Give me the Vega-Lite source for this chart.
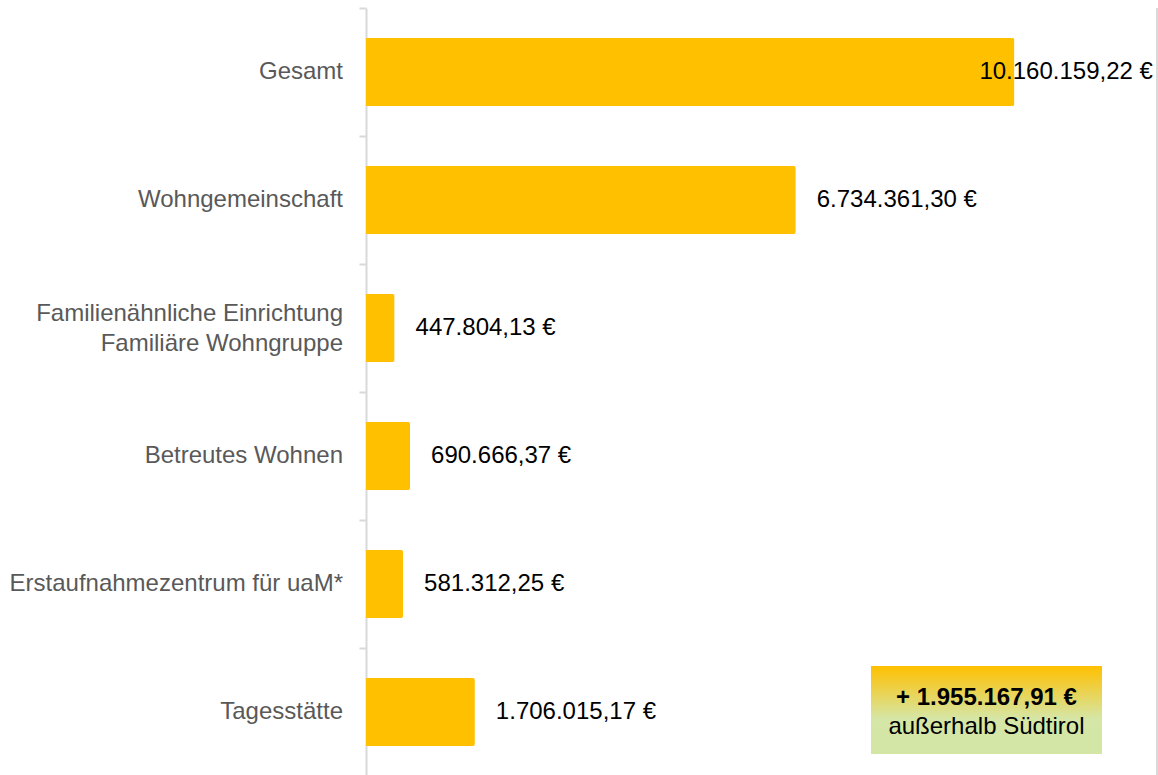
{
  "$schema": "https://vega.github.io/schema/vega-lite/v6.json",
  "width": 791,
  "height": 768,
  "autosize": "none",
  "padding": {"left": 366, "top": 8, "right": 1, "bottom": 0},
  "background": "white",
  "config": {
    "view": {"stroke": null},
    "locale": {"number": {"decimal": ",", "thousands": ".", "grouping": [3], "currency": ["", " €"]}},
    "font": "Liberation Sans"
  },
  "datasets": {
    "bars": [
      {"kategorie": "Gesamt", "betrag": 10160159.22},
      {"kategorie": "Wohngemeinschaft", "betrag": 6734361.30},
      {"kategorie": "Familienähnliche Einrichtung|Familiäre Wohngruppe", "betrag": 447804.13},
      {"kategorie": "Betreutes Wohnen", "betrag": 690666.37},
      {"kategorie": "Erstaufnahmezentrum für uaM*", "betrag": 581312.25},
      {"kategorie": "Tagesstätte", "betrag": 1706015.17}
    ],
    "box": [
      {"kategorie": "Tagesstätte", "von": 7913000, "bis": 11533000, "mitte": 9723000, "zeile1": "+ 1.955.167,91 €", "zeile2": "außerhalb Südtirol"}
    ]
  },
  "layer": [
    {
      "data": {"name": "bars"},
      "mark": {"type": "bar", "color": "#FFC000", "cornerRadiusEnd": 2, "size": 68},
      "encoding": {
        "y": {
          "field": "kategorie", "type": "nominal", "sort": null, "title": null,
          "scale": {"paddingInner": 0, "paddingOuter": 0},
          "axis": {
            "labels": false,
            "domainColor": "#d9d9d9", "domainWidth": 2,
            "tickColor": "#d9d9d9", "tickSize": 7, "tickWidth": 2, "tickBand": "extent"
          }
        },
        "x": {
          "field": "betrag", "type": "quantitative",
          "scale": {"domain": [0, 12395000], "nice": false},
          "axis": null
        }
      }
    },
    {
      "data": {"name": "bars"},
      "transform": [{"filter": "indexof(datum.kategorie, '|') < 0"}],
      "mark": {"type": "text", "align": "right", "baseline": "middle", "dx": -23, "fontSize": 24, "color": "#595959"},
      "encoding": {
        "y": {"field": "kategorie", "type": "nominal", "sort": null},
        "x": {"datum": 0, "type": "quantitative"},
        "text": {"field": "kategorie"}
      }
    },
    {
      "data": {"name": "bars"},
      "transform": [{"filter": "indexof(datum.kategorie, '|') >= 0"}],
      "mark": {"type": "text", "align": "right", "baseline": "middle", "dx": -23, "dy": -14, "fontSize": 24, "color": "#595959", "lineBreak": "|", "lineHeight": 30},
      "encoding": {
        "y": {"field": "kategorie", "type": "nominal", "sort": null},
        "x": {"datum": 0, "type": "quantitative"},
        "text": {"field": "kategorie"}
      }
    },
    {
      "data": {"name": "bars"},
      "transform": [{"filter": "datum.kategorie !== 'Gesamt'"}],
      "mark": {"type": "text", "align": "left", "baseline": "middle", "dx": 21, "fontSize": 24, "color": "black"},
      "encoding": {
        "y": {"field": "kategorie", "type": "nominal", "sort": null},
        "x": {"field": "betrag", "type": "quantitative"},
        "text": {"field": "betrag", "type": "quantitative", "format": "$,.2f"}
      }
    },
    {
      "data": {"name": "bars"},
      "transform": [{"filter": "datum.kategorie === 'Gesamt'"}],
      "mark": {"type": "text", "align": "left", "baseline": "middle", "dx": -35, "fontSize": 24, "color": "black"},
      "encoding": {
        "y": {"field": "kategorie", "type": "nominal", "sort": null},
        "x": {"field": "betrag", "type": "quantitative"},
        "text": {"field": "betrag", "type": "quantitative", "format": "$,.2f"}
      }
    },
    {
      "data": {"name": "box"},
      "mark": {
        "type": "bar", "size": 88, "yOffset": -2,
        "color": {"gradient": "linear", "x1": 0, "y1": 0, "x2": 0, "y2": 1,
          "stops": [{"offset": 0, "color": "#FFC000"}, {"offset": 0.6, "color": "#D5E6A6"}, {"offset": 1, "color": "#D3E6A5"}]}
      },
      "encoding": {
        "y": {"field": "kategorie", "type": "nominal", "sort": null},
        "x": {"field": "von", "type": "quantitative"},
        "x2": {"field": "bis"}
      }
    },
    {
      "data": {"name": "box"},
      "mark": {"type": "text", "align": "center", "baseline": "middle", "dy": -14, "fontSize": 24, "fontWeight": "bold", "color": "black"},
      "encoding": {
        "y": {"field": "kategorie", "type": "nominal", "sort": null},
        "x": {"field": "mitte", "type": "quantitative"},
        "text": {"field": "zeile1"}
      }
    },
    {
      "data": {"name": "box"},
      "mark": {"type": "text", "align": "center", "baseline": "middle", "dy": 15, "fontSize": 24, "color": "black"},
      "encoding": {
        "y": {"field": "kategorie", "type": "nominal", "sort": null},
        "x": {"field": "mitte", "type": "quantitative"},
        "text": {"field": "zeile2"}
      }
    },
    {
      "data": {"values": [{"grenze": 12395000}]},
      "mark": {"type": "rule", "color": "#d9d9d9", "strokeWidth": 2},
      "encoding": {"x": {"field": "grenze", "type": "quantitative"}}
    }
  ]
}
